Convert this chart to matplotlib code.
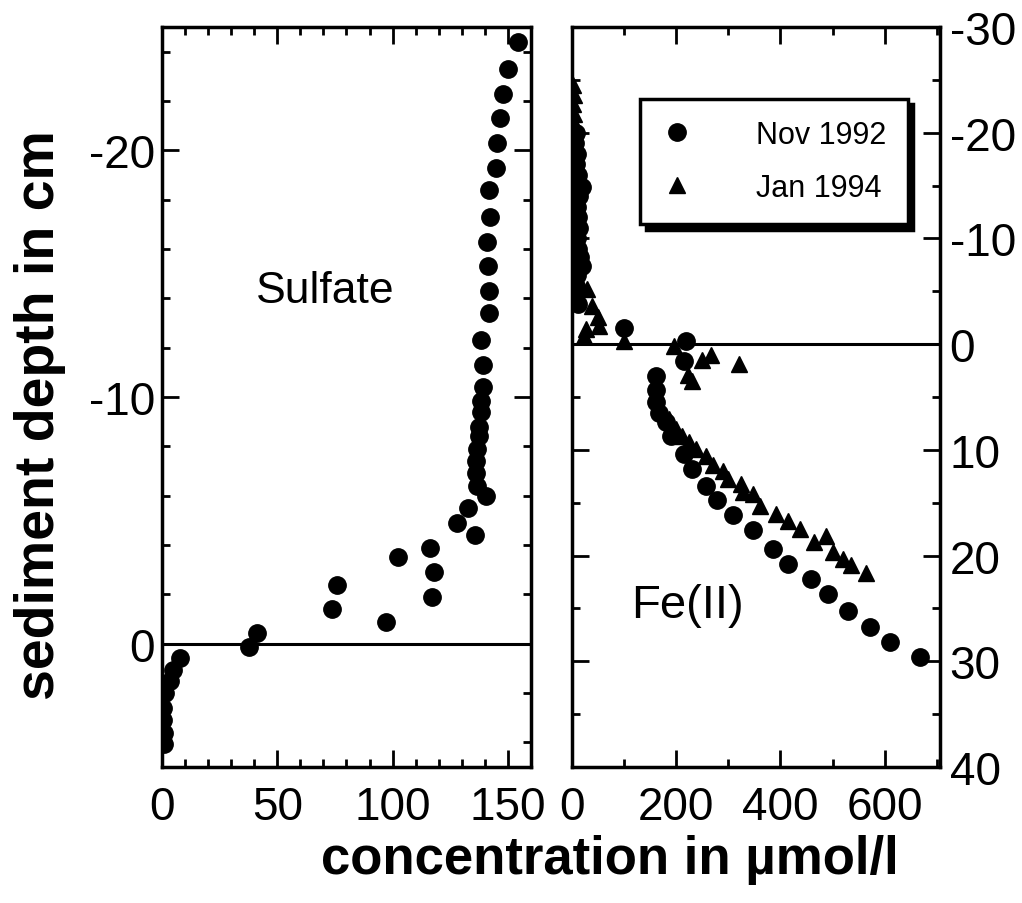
import matplotlib
matplotlib.use("Agg")
import matplotlib.pyplot as plt
from matplotlib.ticker import MultipleLocator

plt.rcParams['font.family'] = ['Liberation Sans', 'DejaVu Sans']
plt.rcParams['axes.unicode_minus'] = False

# Sulfate profile (concentration umol/l, depth cm)
sulfate_conc = [154.2, 150.1, 147.7, 146.7, 145.5, 144.8, 141.6, 142.3, 140.9, 141.4,
                141.6, 141.6, 138.3, 139.3, 139.3, 138.3, 138.3, 137.5, 137.5, 136.8,
                136.1, 136.1, 136.8, 140.4, 132.5, 127.8, 135.7, 116.2, 118.0, 117.2,
                102.3, 75.9, 73.8, 97.0, 41.2, 37.8, 7.8, 4.9, 3.5, 1.3,
                0.6, 0.6, 0.7, 0.7]
sulfate_depth = [-24.4, -23.3, -22.3, -21.3, -20.3, -19.3, -18.4, -17.3, -16.3, -15.3,
                 -14.3, -13.4, -12.3, -11.3, -10.4, -9.85, -9.4, -8.8, -8.4, -7.9,
                 -7.4, -6.9, -6.4, -6.0, -5.5, -4.9, -4.4, -3.9, -2.9, -1.9,
                 -3.5, -2.4, -1.4, -0.9, -0.45, 0.13, 0.58, 1.08, 1.5, 2.0,
                 2.6, 3.1, 3.6, 4.05]

# Fe(II), Nov 1992
nov_conc = [8, 6, 10, 8, 12, 20, 14, 10, 12, 14, 10, 12, 16, 20, 10, 8, 6, 12,
            100, 219, 215, 161, 161, 161, 167, 180, 190, 215, 231, 257, 279,
            308, 347, 385, 414, 459, 491, 529, 571, 610, 667]
nov_depth = [-20, -19, -18, -17, -16, -14.9, -14, -13, -12, -11, -10, -9, -8.2, -7.4,
             -6.5, -5.5, -4.5, -3.8,
             -1.5, -0.3, 1.6, 3.0, 4.3, 5.5, 6.5, 7.4, 8.7, 10.4, 11.8, 13.4, 14.7,
             16.2, 17.6, 19.4, 20.8, 22.2, 23.6, 25.2, 26.8, 28.2, 29.6]

# Fe(II), Jan 1994
jan_conc = [2, 3, 2, 4, 3, 2, 4, 3, 2, 4, 3, 5, 4, 3, 5, 4, 3, 5, 6, 4, 6, 8, 10,
            29, 39, 49, 52, 26, 23, 100, 196, 250, 267, 321, 222, 231,
            187, 199, 212, 225, 238, 257, 270, 289, 299, 324, 328, 347, 360,
            392, 414, 437, 465, 488, 501, 520, 536, 565]
jan_depth = [-24.5, -23.6, -22.7, -21.8, -20.9, -20.0, -19.1, -18.2, -17.3, -16.4,
             -15.5, -14.6, -13.7, -12.8, -11.9, -11.0, -10.1, -9.2, -8.3, -7.4,
             -6.5, -5.6, -4.8,
             -5.2, -3.6, -2.6, -1.7, -1.4, -0.75, -0.3, 0.2, 1.45, 1.0, 1.9, 2.9, 3.5,
             7.1, 8.0, 8.7, 9.3, 9.9, 10.6, 11.4, 12.0, 12.8, 13.2, 14.0, 14.2, 15.3,
             16.1, 16.7, 17.5, 18.7, 18.1, 19.7, 20.3, 20.9, 21.6]


def style_axes(ax):
    for s in ax.spines.values():
        s.set_linewidth(2.5)
    ax.tick_params(which='both', direction='in', width=2, top=True, right=True,
                   labelsize=33)
    ax.tick_params(which='major', length=12)
    ax.tick_params(which='minor', length=6)


def main():
    fig = plt.figure(figsize=(10.22, 9.04), dpi=100)

    # left panel: sulfate
    ax1 = fig.add_axes([0.1585, 0.1504, 0.361, 0.8186])
    ax1.plot(sulfate_conc, sulfate_depth, 'o', color='k', markersize=12.5)
    ax1.axhline(0, color='k', lw=2.2)
    ax1.set_xlim(0, 160)
    ax1.set_ylim(5, -25)
    ax1.xaxis.set_major_locator(MultipleLocator(50))
    ax1.xaxis.set_minor_locator(MultipleLocator(10))
    ax1.yaxis.set_major_locator(MultipleLocator(10))
    ax1.yaxis.set_minor_locator(MultipleLocator(2))
    style_axes(ax1)
    ax1.tick_params(axis='x', pad=13)
    ax1.tick_params(axis='y', pad=5)
    ax1.text(71, -14.3, 'Sulfate', fontsize=32, ha='center', va='center')

    # right panel: Fe(II)
    ax2 = fig.add_axes([0.5597, 0.1504, 0.360, 0.8186])
    ax2.plot(jan_conc, jan_depth, '^', color='k', markersize=11, label='Jan 1994')
    ax2.plot(nov_conc, nov_depth, 'o', color='k', markersize=12.5, label='Nov 1992')
    ax2.axhline(0, color='k', lw=2.2)
    ax2.set_xlim(0, 706)
    ax2.set_ylim(40, -30)
    ax2.xaxis.set_major_locator(MultipleLocator(200))
    ax2.xaxis.set_minor_locator(MultipleLocator(100))
    ax2.yaxis.set_major_locator(MultipleLocator(10))
    ax2.yaxis.set_minor_locator(MultipleLocator(5))
    style_axes(ax2)
    ax2.tick_params(axis='x', pad=13)
    ax2.tick_params(axis='y', labelleft=False, labelright=True, pad=7)
    ax2.text(221, 24.7, 'Fe(II)', fontsize=34, ha='center', va='center')

    handles, labels = ax2.get_legend_handles_labels()
    leg = ax2.legend(handles[::-1], labels[::-1], loc='upper left',
                     bbox_to_anchor=(0.185, 0.903), fontsize=22, frameon=True,
                     fancybox=False, edgecolor='k', framealpha=1,
                     shadow={'color': 'k', 'alpha': 1, 'ox': 4, 'oy': -4},
                     handlelength=1.0, handletextpad=2.1, borderpad=0.7,
                     labelspacing=0.75, borderaxespad=0)
    leg.get_frame().set_linewidth(2.5)

    fig.text(40 / 1022, 1 - 415 / 904, 'sediment depth in cm', rotation=90,
             fontsize=40, fontweight='bold', ha='center', va='center')
    fig.text(610 / 1022, 1 - 860 / 904, 'concentration in \u00b5mol/l',
             fontsize=38, fontweight='bold', ha='center', va='center')

    fig.savefig('out.png', dpi=100)


if __name__ == "__main__":
    main()
